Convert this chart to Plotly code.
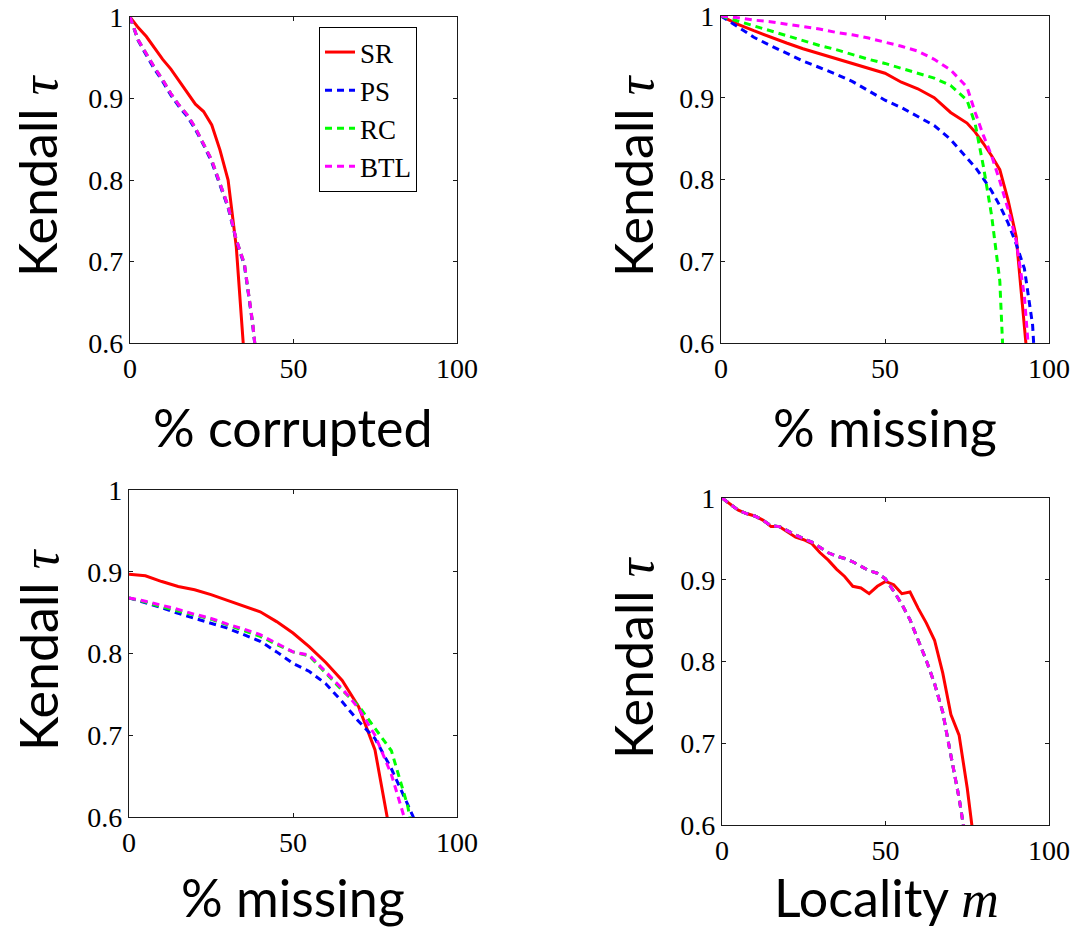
import plotly.graph_objects as go

# ---- data -------------------------------------------------------------
methods = ["SR", "PS", "RC", "BTL"]
colors = {"SR": "#ff0000", "PS": "#0000ff", "RC": "#00ff00", "BTL": "#ff00ff"}

# panel 1: % corrupted
x_corrupt = [0, 2.5, 5, 7.5, 10, 12.5, 15, 17.5, 20, 22.5, 25, 27.5, 30, 32.5, 35, 37.5, 40]
corrupt_sr = [1.0, 0.987, 0.976, 0.962, 0.948, 0.936, 0.922, 0.908, 0.893, 0.884, 0.8675, 0.837, 0.800, 0.718, 0.582, 0.45, 0.30]
corrupt_ps = [1.0, 0.971, 0.953, 0.936, 0.921, 0.904, 0.890, 0.878, 0.862, 0.843, 0.822, 0.794, 0.766, 0.726, 0.695, 0.623, 0.53]
corrupt_rc = [1.0, 0.972, 0.955, 0.938, 0.923, 0.906, 0.892, 0.880, 0.864, 0.845, 0.8245, 0.796, 0.768, 0.727, 0.697, 0.625, 0.53]
corrupt_btl = [1.0, 0.972, 0.955, 0.938, 0.923, 0.906, 0.892, 0.880, 0.864, 0.845, 0.8245, 0.796, 0.768, 0.727, 0.697, 0.625, 0.53]

# panel 2: % missing
x_missing_a = [0, 5, 10, 15, 20, 25, 30, 35, 40, 45, 50, 55, 60, 65, 70, 75, 77.5, 80, 82.5, 85, 87.5, 90, 92.5, 95, 97.5]
missing_a_sr = [1.0, 0.990, 0.982, 0.974, 0.967, 0.960, 0.954, 0.948, 0.942, 0.936, 0.930, 0.919, 0.911, 0.900, 0.882, 0.869, 0.858, 0.844, 0.829, 0.812, 0.775, 0.730, 0.626, 0.50, 0.40]
missing_a_ps = [1.0, 0.987, 0.974, 0.964, 0.954, 0.945, 0.937, 0.929, 0.920, 0.908, 0.897, 0.888, 0.877, 0.866, 0.849, 0.827, 0.815, 0.801, 0.786, 0.768, 0.747, 0.721, 0.691, 0.622, 0.45]
missing_a_rc = [1.0, 0.994, 0.988, 0.982, 0.976, 0.970, 0.964, 0.959, 0.953, 0.947, 0.942, 0.936, 0.930, 0.924, 0.915, 0.897, 0.868, 0.816, 0.756, 0.676, 0.45, 0.30, 0.20, 0.10, 0.0]
missing_a_btl = [1.0, 0.998, 0.995, 0.993, 0.990, 0.987, 0.984, 0.980, 0.977, 0.973, 0.968, 0.963, 0.957, 0.947, 0.934, 0.913, 0.882, 0.854, 0.829, 0.798, 0.764, 0.725, 0.657, 0.52, 0.40]

# panel 3: % missing (second setting)
x_missing_b = [0, 5, 10, 15, 20, 25, 30, 35, 40, 45, 50, 55, 60, 65, 70, 75, 80, 85, 90]
missing_b_sr = [0.897, 0.895, 0.888, 0.882, 0.878, 0.872, 0.865, 0.858, 0.851, 0.839, 0.825, 0.808, 0.789, 0.767, 0.735, 0.682, 0.565, 0.45, 0.35]
missing_b_ps = [0.868, 0.862, 0.856, 0.849, 0.843, 0.837, 0.831, 0.823, 0.815, 0.802, 0.788, 0.778, 0.763, 0.741, 0.717, 0.696, 0.659, 0.615, 0.57]
missing_b_rc = [0.868, 0.863, 0.857, 0.852, 0.847, 0.842, 0.835, 0.828, 0.821, 0.811, 0.802, 0.797, 0.776, 0.755, 0.736, 0.709, 0.681, 0.613, 0.50]
missing_b_btl = [0.868, 0.864, 0.859, 0.854, 0.848, 0.843, 0.836, 0.830, 0.823, 0.812, 0.802, 0.798, 0.778, 0.757, 0.733, 0.700, 0.652, 0.585, 0.50]

# panel 4: locality m
x_locality = [0, 2.5, 5, 7.5, 10, 12.5, 15, 17.5, 20, 22.5, 25, 27.5, 30, 32.5, 35, 37.5, 40,
              42.5, 45, 47.5, 50, 52.5, 55, 57.5, 60, 62.5, 65, 67.5, 70, 72.5, 75, 77.5]
locality_sr = [1.0, 0.992, 0.985, 0.981, 0.978, 0.973, 0.965, 0.965, 0.959, 0.952, 0.949, 0.944, 0.933, 0.924, 0.913, 0.904, 0.892,
               0.890, 0.883, 0.892, 0.898, 0.894, 0.883, 0.885, 0.865, 0.847, 0.826, 0.786, 0.735, 0.710, 0.645, 0.565]
locality_btl = [1.0, 0.992, 0.985, 0.981, 0.978, 0.973, 0.966, 0.965, 0.960, 0.954, 0.950, 0.946, 0.939, 0.933, 0.929, 0.926, 0.922,
                0.916, 0.911, 0.908, 0.901, 0.886, 0.870, 0.851, 0.826, 0.801, 0.773, 0.738, 0.685, 0.633, 0.570, 0.50]
locality_ps = list(locality_btl)
locality_rc = list(locality_btl)

x_tick_vals = [0, 50, 100]
y_tick_vals = [0.6, 0.7, 0.8, 0.9, 1.0]
y_tick_text = ["0.6", "0.7", "0.8", "0.9", "1"]

panels = [
    (x_corrupt, {"SR": corrupt_sr, "PS": corrupt_ps, "RC": corrupt_rc, "BTL": corrupt_btl}),
    (x_missing_a, {"SR": missing_a_sr, "PS": missing_a_ps, "RC": missing_a_rc, "BTL": missing_a_btl}),
    (x_missing_b, {"SR": missing_b_sr, "PS": missing_b_ps, "RC": missing_b_rc, "BTL": missing_b_btl}),
    (x_locality, {"SR": locality_sr, "PS": locality_ps, "RC": locality_rc, "BTL": locality_btl}),
]

# ---- layout geometry (pixels) -----------------------------------------
W, H = 1074, 932
boxes = [  # left, right, top, bottom
    (130, 457, 17, 343),
    (721, 1049, 16, 343),
    (129, 457, 490, 817),
    (722, 1049, 498, 825),
]

fig = go.Figure()

for i, (xs, series) in enumerate(panels):
    sfx = "" if i == 0 else str(i + 1)
    for m in methods:
        fig.add_trace(go.Scatter(
            x=xs, y=series[m], mode="lines", name=m,
            line=dict(color=colors[m], width=3,
                      dash="solid" if m == "SR" else "7px,5px"),
            showlegend=(i == 0),
            xaxis="x" + sfx, yaxis="y" + sfx,
        ))

tick_font = dict(family="Liberation Serif", size=28, color="black")
axis_common = dict(
    showline=True, linecolor="#1a1a1a", linewidth=1.3, mirror="ticks",
    ticks="inside", ticklen=4, tickwidth=1, tickcolor="#1a1a1a",
    showgrid=False, zeroline=False, tickfont=tick_font, automargin=False,
)

for i, (l, r, t, b) in enumerate(boxes):
    sfx = "" if i == 0 else str(i + 1)
    fig.layout["xaxis" + sfx] = dict(
        axis_common, domain=[l / W, r / W], range=[0, 100],
        tickvals=x_tick_vals, anchor="y" + sfx,
    )
    fig.layout["yaxis" + sfx] = dict(
        axis_common, domain=[1 - b / H, 1 - t / H], range=[0.6, 1.0],
        tickvals=y_tick_vals, ticktext=y_tick_text, anchor="x" + sfx,
    )

# axis titles
title_font = dict(family="Lato", size=52, color="black")
ylabel = 'Kendall <span style="font-family:Liberation Serif"><i>τ</i></span>'
xlabels = [
    "% corrupted",
    "% missing",
    "% missing",
    'Locality <span style="font-family:Liberation Serif"><i>m</i></span>',
]
ylabel_pos = [(37, 176), (633, 176), (38, 650), (633, 658)]
xlabel_pos = [(293, 427), (885, 427), (293, 897), (886, 897)]

annotations = []
for (px, py) in ylabel_pos:
    annotations.append(dict(
        text=ylabel, x=px / W, y=1 - py / H, xref="paper", yref="paper",
        textangle=-90, showarrow=False, font=title_font,
        xanchor="center", yanchor="middle",
    ))
for txt, (px, py) in zip(xlabels, xlabel_pos):
    annotations.append(dict(
        text=txt, x=px / W, y=1 - py / H, xref="paper", yref="paper",
        showarrow=False, font=title_font, xanchor="center", yanchor="middle",
    ))

fig.update_layout(
    template="none",
    width=W, height=H,
    margin=dict(l=0, r=0, t=0, b=0, autoexpand=False),
    paper_bgcolor="white", plot_bgcolor="white",
    annotations=annotations,
    legend=dict(
        x=319 / W, y=1 - 27 / H, xanchor="left", yanchor="top",
        bgcolor="white", bordercolor="black", borderwidth=1,
        font=dict(family="Liberation Serif", size=27, color="black"),
        tracegroupgap=0, itemwidth=30,
    ),
)

fig.write_html("out.html")
